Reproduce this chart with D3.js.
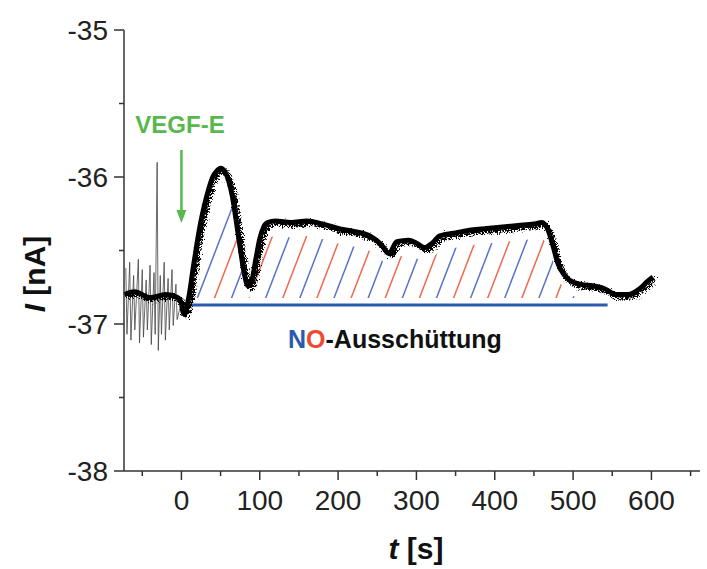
<!DOCTYPE html>
<html>
<head>
<meta charset="utf-8">
<script src="https://cdn.jsdelivr.net/npm/d3@7"></script>
<style>
  body { margin: 0; background: #fff; }
  text { font-family: "Liberation Sans", Arial, sans-serif; }
</style>
</head>
<body>
<script>
// main trace (t in s, I in nA)
var traceT = [-73, -60, -40, -20, -5, 0, 3, 6, 10, 15, 20, 25, 30, 35, 40, 45, 50, 55, 60, 65, 70, 75, 80, 85, 90, 95, 100, 105, 110, 120, 140, 160, 180, 200, 220, 240, 255, 265, 275, 290, 300, 310, 320, 330, 350, 370, 390, 410, 430, 450, 460, 468, 475, 480, 488, 495, 510, 525, 540, 555, 570, 585, 595, 602];
var traceI = [-36.80, -36.78, -36.82, -36.80, -36.82, -36.86, -36.93, -36.90, -36.80, -36.62, -36.45, -36.30, -36.18, -36.08, -36.00, -35.96, -35.94, -35.96, -36.02, -36.13, -36.30, -36.48, -36.65, -36.74, -36.70, -36.56, -36.42, -36.34, -36.31, -36.30, -36.31, -36.30, -36.32, -36.35, -36.37, -36.40, -36.46, -36.52, -36.44, -36.43, -36.45, -36.48, -36.45, -36.40, -36.38, -36.36, -36.35, -36.34, -36.33, -36.32, -36.31, -36.36, -36.48, -36.58, -36.66, -36.70, -36.73, -36.74, -36.76, -36.80, -36.80, -36.76, -36.71, -36.68];

// noise spikes before the stimulus
var spikeT = [-71, -66, -61, -55, -50, -45, -40, -35, -31, -27, -22, -17, -12, -7];
var spikeHi = [-36.62, -36.58, -36.67, -36.56, -36.63, -36.70, -36.60, -36.65, -35.90, -36.67, -36.58, -36.69, -36.63, -36.73];
var spikeLo = [-37.07, -37.11, -37.04, -37.13, -37.09, -37.04, -37.14, -37.07, -37.18, -37.07, -37.11, -37.04, -37.01, -36.97];

var baseI = -36.87, baseT0 = 7, baseT1 = 544;
var stimT = 0;

var xTicks = [0, 100, 200, 300, 400, 500, 600];
var xMinor = [-50, 50, 150, 250, 350, 450, 550, 650];
var yTicks = [-35, -36, -37, -38];
var yMinor = [-35.5, -36.5, -37.5];

var W = 707, H = 569;
var svg = d3.select("body").append("svg").attr("width", W).attr("height", H);

var x = d3.scaleLinear().domain([-73.3, 662]).range([124, 700]);
var y = d3.scaleLinear().domain([-38, -35]).range([471, 30]);

var axisCol = "#333";

// rough look for the recorded trace
var defs = svg.append("defs");
var flt = defs.append("filter").attr("id", "rough")
  .attr("x", "-5%").attr("y", "-20%").attr("width", "110%").attr("height", "140%");
flt.append("feTurbulence").attr("type", "turbulence")
  .attr("baseFrequency", "0.7 0.7").attr("numOctaves", 2).attr("seed", 5).attr("result", "n");
flt.append("feDisplacementMap").attr("in", "SourceGraphic").attr("in2", "n")
  .attr("scale", 10).attr("xChannelSelector", "R").attr("yChannelSelector", "G");

// hatch region: between baseline and trace, clipped
var trace = traceT.map(function(t, i) { return [t, traceI[i]]; });
var inBase = trace.filter(function(d) { return d[0] >= baseT0 && d[0] <= baseT1; });
var clipArea = d3.area()
  .x(function(d) { return x(d[0]); })
  .y0(y(baseI) - 7)
  .y1(function(d) { return Math.min(y(d[1]) + 15, y(baseI) - 7); });

defs.append("clipPath").attr("id", "hclip")
  .append("path").attr("d", clipArea(inBase));

var hatchG = svg.append("g").attr("clip-path", "url(#hclip)");
var hatchStep = 21.8;
var hatchT = d3.range(baseT0 + 12, baseT1 + 40, hatchStep);
hatchT.forEach(function(t, i) {
  var x0 = x(t), y0 = y(baseI) - 4;
  hatchG.append("line")
    .attr("x1", x0).attr("y1", y0)
    .attr("x2", x0 + 60).attr("y2", y0 - 156)
    .attr("stroke", i % 2 == 0 ? "#5a72c8" : "#ee6a4e")
    .attr("stroke-width", 1.5);
});

// baseline
svg.append("line")
  .attr("x1", x(baseT0)).attr("x2", x(baseT1))
  .attr("y1", y(baseI)).attr("y2", y(baseI))
  .attr("stroke", "#2a5aad").attr("stroke-width", 3);

// spikes (thin)
var zig = [];
spikeT.forEach(function(t, i) {
  zig.push([t, spikeHi[i]]);
  zig.push([t + 1.5, spikeLo[i]]);
});
zig.push([0, -36.85]);
svg.append("path")
  .attr("d", d3.line().x(function(d) { return x(d[0]); }).y(function(d) { return y(d[1]); })(zig))
  .attr("fill", "none").attr("stroke", "#444").attr("stroke-width", 0.8);

// main trace
var traceLine = d3.line().curve(d3.curveMonotoneX)
  .x(function(d) { return x(d[0]); }).y(function(d) { return y(d[1]); });
svg.append("path")
  .attr("d", traceLine(trace))
  .attr("fill", "none").attr("stroke", "#000").attr("stroke-width", 5)
  .attr("stroke-linejoin", "round");
svg.append("path")
  .attr("d", traceLine(trace))
  .attr("fill", "none").attr("stroke", "#000").attr("stroke-width", 4)
  .attr("stroke-linejoin", "round")
  .attr("filter", "url(#rough)");

// axes
var yAxis = svg.append("g").attr("transform", "translate(124,0)");
yAxis.append("line").attr("x1", 0).attr("x2", 0).attr("y1", y(-35)).attr("y2", y(-38))
  .attr("stroke", axisCol).attr("stroke-width", 1.5);
yTicks.forEach(function(v) {
  yAxis.append("line").attr("x1", -10).attr("x2", 0).attr("y1", y(v)).attr("y2", y(v))
    .attr("stroke", axisCol).attr("stroke-width", 1.5);
  yAxis.append("text").attr("x", -16).attr("y", y(v) + 10)
    .attr("text-anchor", "end").attr("font-size", 28).attr("fill", "#222")
    .text(v);
});
yMinor.forEach(function(v) {
  yAxis.append("line").attr("x1", -5).attr("x2", 0).attr("y1", y(v)).attr("y2", y(v))
    .attr("stroke", axisCol).attr("stroke-width", 1.5);
});

var xAxis = svg.append("g").attr("transform", "translate(0,471)");
xAxis.append("line").attr("x1", 124).attr("x2", 700).attr("y1", 0).attr("y2", 0)
  .attr("stroke", axisCol).attr("stroke-width", 1.5);
xTicks.forEach(function(v) {
  xAxis.append("line").attr("x1", x(v)).attr("x2", x(v)).attr("y1", 0).attr("y2", 9)
    .attr("stroke", axisCol).attr("stroke-width", 1.5);
  xAxis.append("text").attr("x", x(v)).attr("y", 39)
    .attr("text-anchor", "middle").attr("font-size", 28).attr("fill", "#222")
    .text(v);
});
xMinor.forEach(function(v) {
  xAxis.append("line").attr("x1", x(v)).attr("x2", x(v)).attr("y1", 0).attr("y2", 5)
    .attr("stroke", axisCol).attr("stroke-width", 1.5);
});

// axis titles
var yt = svg.append("text")
  .attr("transform", "translate(45,274) rotate(-90)")
  .attr("text-anchor", "middle").attr("font-size", 30).attr("font-weight", "bold").attr("fill", "#111");
yt.append("tspan").attr("font-style", "italic").text("I");
yt.append("tspan").text(" [nA]");

var xt = svg.append("text")
  .attr("x", 416).attr("y", 559)
  .attr("text-anchor", "middle").attr("font-size", 30).attr("font-weight", "bold").attr("fill", "#111");
xt.append("tspan").attr("font-style", "italic").text("t");
xt.append("tspan").text(" [s]");

// stimulus annotation
var green = "#58b84c";
svg.append("text").attr("x", 180).attr("y", 133)
  .attr("text-anchor", "middle").attr("font-size", 24).attr("font-weight", "bold")
  .attr("fill", green).text("VEGF-E");
svg.append("line")
  .attr("x1", x(stimT)).attr("x2", x(stimT)).attr("y1", 150).attr("y2", 214)
  .attr("stroke", green).attr("stroke-width", 2.5);
svg.append("path")
  .attr("d", "M" + (x(stimT) - 5) + ",210 L" + (x(stimT) + 5) + ",210 L" + x(stimT) + ",223 Z")
  .attr("fill", green);

// label
var lab = svg.append("text").attr("x", 288).attr("y", 348)
  .attr("font-size", 25).attr("font-weight", "bold").attr("fill", "#111");
lab.append("tspan").attr("fill", "#2a5aad").text("N");
lab.append("tspan").attr("fill", "#ee4a30").text("O");
lab.append("tspan").text("-Ausschüttung");
</script>
</body>
</html>
